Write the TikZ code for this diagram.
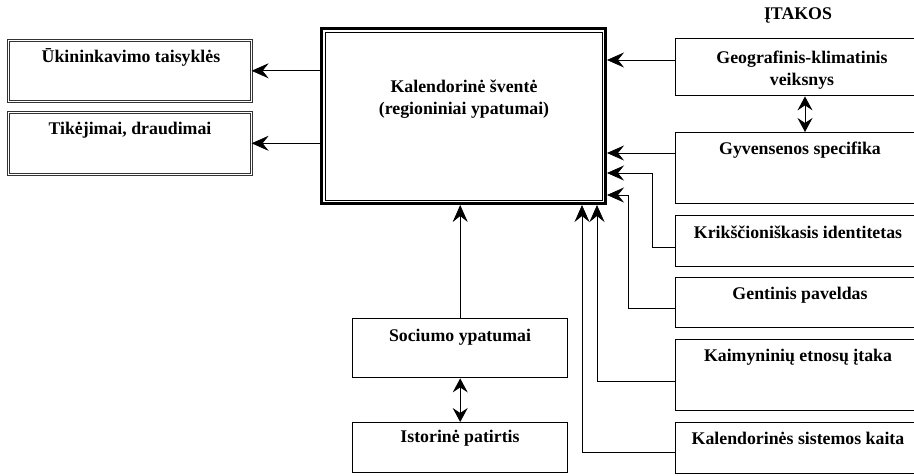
\documentclass[tikz,border=0pt]{standalone}
\usepackage{fontspec}
\setmainfont{Liberation Serif}
\usetikzlibrary{arrows.meta,calc}
\tikzset{
  tip/.tip={Stealth[length=17pt,width=15pt,inset=6pt]},
  dtip/.tip={Stealth[length=14pt,width=15pt,inset=5pt]},
  arr/.style={-tip, line width=0.7pt},
  darr/.style={dtip-dtip, line width=1pt},
  lbox/.style={draw=black!80, double=white, double distance=1.3pt, line width=0.6pt, minimum width=243pt, anchor=north west, inner sep=0pt},
  rbox/.style={draw, line width=1.4pt, minimum width=260pt, anchor=north west, inner sep=0pt},
  txt/.style={font=\fontsize{17.8}{21.5}\selectfont\bfseries, align=center, inner sep=0pt},
}
\begin{document}
\begin{tikzpicture}[x=1pt,y=-1pt]
\useasboundingbox (0,0) rectangle (914,476);
\clip (0,0) rectangle (914,476);
% left boxes
\node[lbox, minimum height=61pt] (uki) at (8,40) {};
\node[txt] (ukit) at (131,57) {Ūkininkavimo taisyklės};
\node[lbox, minimum height=62pt] (tik) at (8,112) {};
\node[txt] (tikt) at (130,130) {Tikėjimai, draudimai};
% central box
\node[draw, line width=3pt, minimum width=284pt, minimum height=175pt, inner sep=0pt] (cen) at (463.5,116) {};
\draw[line width=0.8pt] ([shift={(5pt,-5pt)}]cen.north west) rectangle ([shift={(-5pt,5pt)}]cen.south east);
\node[txt] (cent) at (464,99) {Kalendorinė šventė\\(regioniniai ypatumai)};
% heading
\node[txt] (itakos) at (798,15) {ĮTAKOS};
% right boxes
\node[rbox, minimum height=57pt] (geo) at (675,38) {};
\node[txt] (geot) at (802,70) {Geografinis-klimatinis\\veiksnys};
\node[rbox, minimum height=71pt] (gyv) at (675,132) {};
\node[txt] (gyvt) at (800,150) {Gyvensenos specifika};
\node[rbox, minimum height=51pt] (kri) at (675,215) {};
\node[txt] (krit) at (798,232) {Krikščioniškasis identitetas};
\node[rbox, minimum height=50pt] (gen) at (675,277) {};
\node[txt] (gent) at (800,295) {Gentinis paveldas};
\node[rbox, minimum height=71pt] (kai) at (675,339) {};
\node[txt] (kait) at (798,357) {Kaimyninių etnosų įtaka};
\node[rbox, minimum height=51pt] (kal) at (675,422) {};
\node[txt] (kalt) at (798,438) {Kalendorinės sistemos kaita};
% bottom boxes
\node[rbox, minimum width=215pt, minimum height=59pt] (soc) at (352,318) {};
\node[txt] (soct) at (460,337) {Sociumo ypatumai};
\node[rbox, minimum width=215pt, minimum height=50pt] (ist) at (352,422) {};
\node[txt] (istt) at (460,438) {Istorinė patirtis};
% connectors
\draw[arr] (cen.west |- uki.east) -- (uki.east);
\draw[arr] (cen.west |- tik.east) -- (tik.east);
\coordinate (g1) at ($(geo.north west)+(0,22)$);
\draw[arr] (g1) -- (g1 -| cen.east);
\coordinate (v1) at ($(gyv.north west)+(0,21)$);
\draw[arr] (v1) -- (v1 -| cen.east);
\coordinate (k1) at ($(kri.north west)+(0,32)$);
\coordinate (k2) at (652,173);
\draw[arr] (k1) -| (k2) -- (k2 -| cen.east);
\coordinate (n1) at ($(gen.north west)+(0,31)$);
\coordinate (n2) at (628,195);
\draw[arr] (n1) -| (n2) -- (n2 -| cen.east);
\coordinate (m1) at ($(kai.north west)+(0,42)$);
\coordinate (m2) at (597,300);
\draw[arr] (m1) -| (m2 |- cen.south);
\coordinate (c1) at ($(kal.north west)+(0,30)$);
\coordinate (c2) at (582,300);
\draw[arr] (c1) -| (c2 |- cen.south);
\draw[arr] (soc.north) -- (soc.north |- cen.south);
\draw[darr] (soc.south) -- (ist.north);
\coordinate (d1) at (805,100);
\draw[darr] (d1 |- geo.south) -- (d1 |- gyv.north);
\end{tikzpicture}
\end{document}
